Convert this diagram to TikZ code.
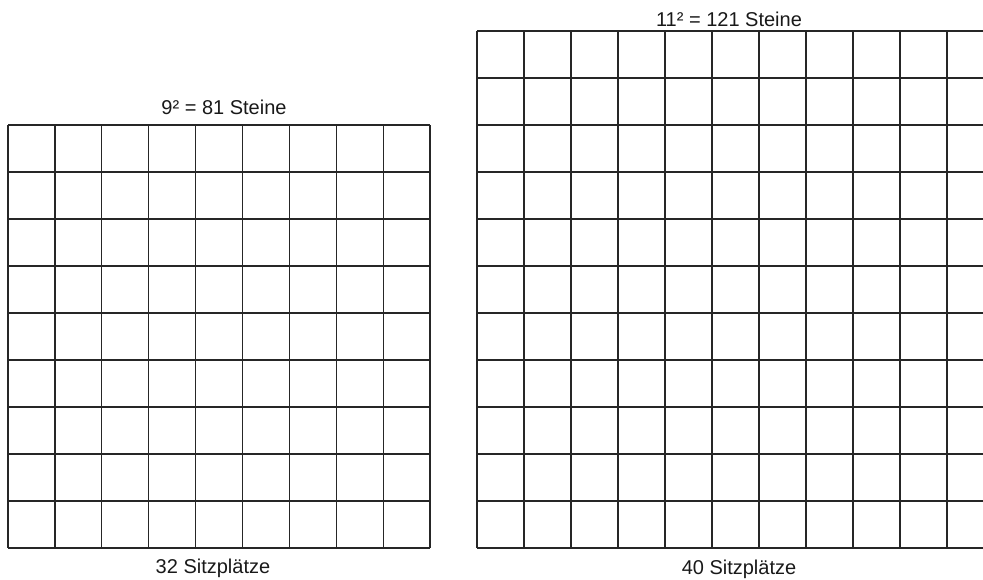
\documentclass[tikz,border=0pt]{standalone}
\usepackage{fontspec}
\setmainfont{Liberation Sans}
\begin{document}
\begin{tikzpicture}[x=1pt,y=-1pt,
  gridline/.style={line width=1.3pt,draw=black!85},
  lbl/.style={font=\fontsize{20}{23}\selectfont,text=black!90,inner sep=0pt}]
\useasboundingbox (0,0) rectangle (983,579);
% left grid 9x9
\foreach \k in {0,...,9}{
  \draw[gridline] ({8+46.9*\k},125) -- ({8+46.9*\k},548);
  \draw[gridline] (8,{125+47*\k}) -- (430,{125+47*\k});
}
% right grid 11x11 (cut at right edge)
\begin{scope}
\clip (0,0) rectangle (983,579);
\foreach \k in {0,...,11}{
  \draw[gridline] ({477+47*\k},31) -- ({477+47*\k},548);
  \draw[gridline] (477,{31+47*\k}) -- (995,{31+47*\k});
}
\end{scope}
\node[lbl] (t1) at (224,107) {9² = 81 Steine};
\node[lbl] (t2) at (729,19) {11² = 121 Steine};
\node[lbl] (b1) at (213,568) {32 Sitzplätze};
\node[lbl] (b2) at (739,569) {40 Sitzplätze};
\end{tikzpicture}
\end{document}
